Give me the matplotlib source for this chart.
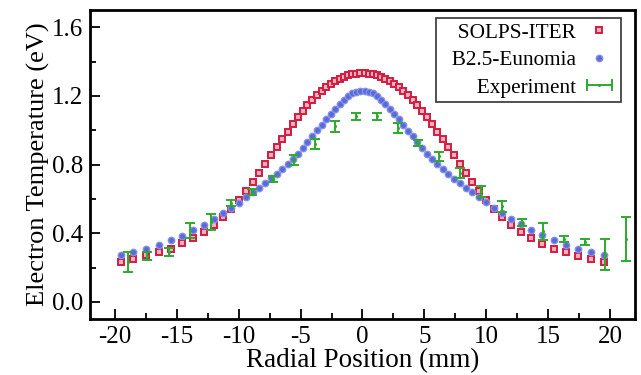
import matplotlib
matplotlib.use("Agg")
import matplotlib.pyplot as plt
from matplotlib.ticker import MultipleLocator
from matplotlib.legend_handler import HandlerBase
from matplotlib.lines import Line2D

# ---- data ----
x_sim = [-19.5, -18.5, -17.45, -16.45, -15.5, -14.55, -13.65, -12.8, -12.0, -11.3,
         -10.62, -10.0, -9.4, -8.86, -8.35, -7.86, -7.38, -6.92, -6.48, -6.05,
         -5.64, -5.24, -4.84, -4.44, -4.04, -3.65, -3.28, -2.92, -2.56, -2.2,
         -1.85, -1.5, -1.16, -0.83, -0.5, -0.17,
         0.17, 0.5, 0.83, 1.16, 1.5, 1.85, 2.2, 2.56, 2.92, 3.28,
         3.65, 4.04, 4.44, 4.84, 5.24, 5.64, 6.05, 6.48, 6.92, 7.38,
         7.86, 8.35, 8.86, 9.4, 10.0, 10.6, 11.28, 12.0, 12.78, 13.62,
         14.52, 15.47, 16.42, 17.42, 18.47, 19.5]

solps = [0.233, 0.25, 0.27, 0.29, 0.31, 0.34, 0.37, 0.407, 0.45, 0.495,
         0.542, 0.593, 0.645, 0.698, 0.75, 0.802, 0.853, 0.901, 0.948, 0.992,
         1.035, 1.074, 1.11, 1.144, 1.175, 1.204, 1.228, 1.25, 1.27, 1.287,
         1.30, 1.311, 1.32, 1.326, 1.33, 1.332,
         1.332, 1.33, 1.326, 1.32, 1.311, 1.30, 1.287, 1.27, 1.25, 1.228,
         1.204, 1.175, 1.144, 1.11, 1.074, 1.035, 0.992, 0.948, 0.90, 0.853,
         0.803, 0.75, 0.698, 0.646, 0.595, 0.543, 0.494, 0.45, 0.407, 0.37,
         0.337, 0.31, 0.289, 0.268, 0.25, 0.23]

eunomia = [0.273, 0.289, 0.308, 0.33, 0.358, 0.386, 0.42, 0.45, 0.483, 0.518,
           0.548, 0.576, 0.61, 0.64, 0.665, 0.692, 0.72, 0.746, 0.774, 0.803,
           0.832, 0.862, 0.896, 0.93, 0.966, 1.0, 1.032, 1.065, 1.097, 1.126,
           1.154, 1.177, 1.198, 1.214, 1.223, 1.228,
           1.228, 1.223, 1.214, 1.198, 1.177, 1.154, 1.126, 1.097, 1.065, 1.032,
           0.998, 0.964, 0.93, 0.896, 0.863, 0.832, 0.803, 0.772, 0.745, 0.717,
           0.692, 0.663, 0.64, 0.608, 0.58, 0.547, 0.518, 0.483, 0.454, 0.42,
           0.387, 0.358, 0.33, 0.308, 0.289, 0.273]

x_exp = [-18.95, -17.4, -15.6, -13.95, -12.25, -10.65, -8.95, -7.25, -5.56, -3.87,
         -2.2, -0.5, 1.18, 2.85, 4.5, 6.19, 7.87, 9.55, 11.24, 12.9,
         14.6, 16.27, 17.94, 19.6, 21.3]
y_exp = [0.233, 0.268, 0.29, 0.417, 0.465, 0.576, 0.64, 0.716, 0.828, 0.919,
         1.022, 1.08, 1.08, 1.012, 0.925, 0.847, 0.75, 0.643, 0.556, 0.463,
         0.41, 0.366, 0.35, 0.275, 0.366]
err_exp = [0.058, 0.023, 0.022, 0.044, 0.047, 0.015, 0.015, 0.017, 0.03, 0.03,
           0.034, 0.02, 0.02, 0.03, 0.02, 0.025, 0.03, 0.033, 0.03, 0.022,
           0.05, 0.017, 0.019, 0.089, 0.127]

GREEN = '#2eaa2e'

plt.rcParams['font.family'] = ['Liberation Serif', 'DejaVu Serif']

fig = plt.figure(figsize=(6.41, 3.75), dpi=100)
ax = fig.add_axes([0.1404, 0.1493, 0.8502, 0.824])

ax.plot(x_sim, solps, linestyle='none', marker='s', markersize=4.0,
        markerfacecolor='#f0b0bd', markeredgecolor='#d21c40', markeredgewidth=1.4,
        label='SOLPS-ITER', zorder=3)
ax.plot(x_sim, eunomia, linestyle='none', marker='o', markersize=4.6,
        markerfacecolor='#5a6ad8', markeredgecolor='#8290e8', markeredgewidth=1.0,
        label='B2.5-Eunomia', zorder=3)
ax.errorbar(x_exp, y_exp, yerr=err_exp, fmt='.', markersize=2.5, color=GREEN,
            ecolor=GREEN, elinewidth=1.4, capsize=3.5, capthick=1.4,
            zorder=4)


class HErrHandler(HandlerBase):
    def create_artists(self, legend, orig_handle, xdescent, ydescent,
                       width, height, fontsize, trans):
        y = height / 2.0 - ydescent
        xm = -xdescent + width / 2.0
        x0, x1 = xm - 9, xm + 9
        h = 3.5
        arts = [
            Line2D([x0, x1], [y, y], color=GREEN, lw=1.4),
            Line2D([x0, x0], [y - h, y + h], color=GREEN, lw=1.4),
            Line2D([x1, x1], [y - h, y + h], color=GREEN, lw=1.4),
            Line2D([xm], [y], marker='.', color=GREEN, markersize=2.5, linestyle='none'),
        ]
        for a in arts:
            a.set_transform(trans)
        return arts


exp_proxy = Line2D([], [], color=GREEN)

ax.set_xlim(-22, 22)
ax.set_ylim(-0.1, 1.7)
ax.xaxis.set_minor_locator(MultipleLocator(2.5))
ax.yaxis.set_minor_locator(MultipleLocator(0.2))
ax.set_yticks([0.0, 0.4, 0.8, 1.2, 1.6])
ax.set_yticklabels(['0.0', '0.4', '0.8', '1.2', '1.6'])
ax.set_xticks([-20, -15, -10, -5, 0, 5, 10, 15, 20])
ax.set_xticklabels(['-20', '-15', '-10', '-5', '0', '5', '10', '15', '20'])

ax.tick_params(which='both', direction='in', top=False, right=False,
               labelsize=18, width=1.3)
ax.tick_params(which='major', length=7, pad=5)
ax.tick_params(which='minor', length=4)
for s in ax.spines.values():
    s.set_linewidth(2.0)

ax.set_xlabel('Radial Position (mm)', fontsize=19.5, labelpad=0)
ax.set_ylabel('Electron Temperature (eV)', fontsize=19, labelpad=1)

handles, labels = ax.get_legend_handles_labels()
handles.append(exp_proxy)
labels.append('Experiment')
labels = ['  ' + l for l in labels]
leg = ax.legend(handles, labels, loc='upper right', fontsize=15.3, markerfirst=False,
                frameon=True, fancybox=False, edgecolor='black',
                handlelength=1.6, handletextpad=0.3, borderpad=0.22,
                labelspacing=0.36, borderaxespad=0,
                bbox_to_anchor=(0.9743, 0.9741),
                handler_map={exp_proxy: HErrHandler()})
leg.get_frame().set_linewidth(1.2)
for t in leg.get_texts():
    t.set_horizontalalignment('right')

fig.savefig('out.png', dpi=100)
